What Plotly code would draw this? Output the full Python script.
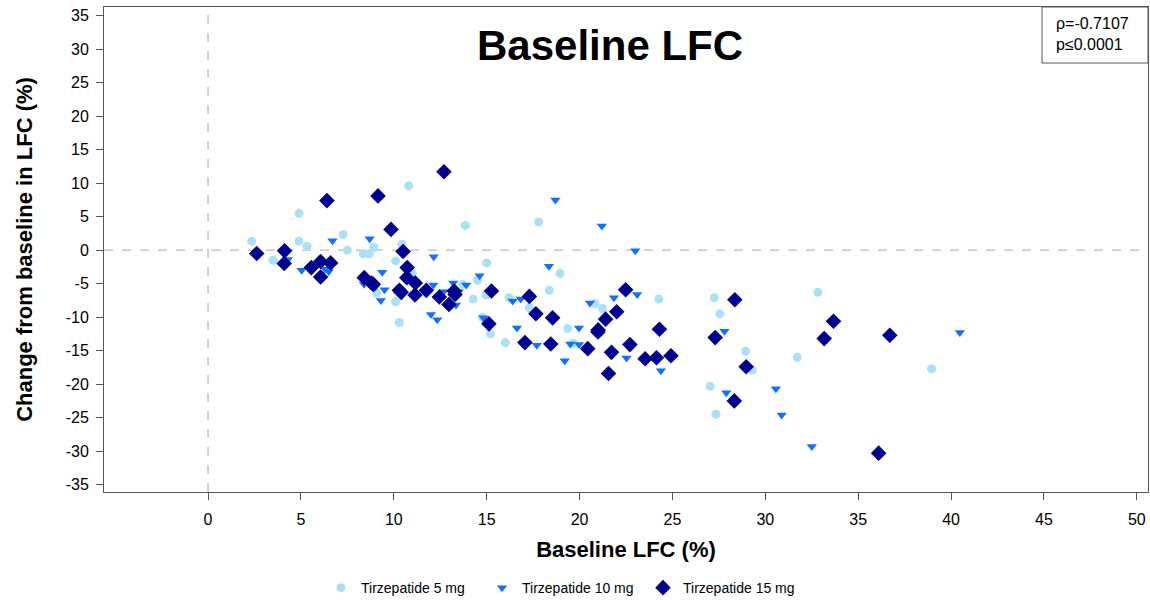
import plotly.graph_objects as go

# Tirzepatide 5 mg
x5 = [2.35, 3.5, 4.9, 4.9, 5.33, 7.27, 7.5, 8.36, 8.68, 8.93, 9.07, 10.1, 10.44, 10.8, 10.1, 10.3, 11.0,
      13.85, 13.7, 14.28, 14.5, 15.0, 14.96, 14.76, 15.2, 16.0, 16.2, 17.3, 17.8, 18.37, 18.95, 19.36, 19.66,
      20.83, 21.23, 24.27, 27.25, 27.55, 28.94, 29.3, 31.72, 32.83, 27.03, 27.34, 38.95]
y5 = [1.35, -1.5, 5.5, 1.35, 0.6, 2.35, 0.0, -0.55, -0.55, 0.4, -6.4, -1.6, 0.9, 9.6, -7.7, -10.8, -3.4,
      3.7, -5.1, -7.3, -4.5, -1.9, -6.7, -10.0, -12.5, -13.8, -7.1, -8.6, 4.2, -6.0, -3.5, -11.7, -13.9,
      -8.0, -8.7, -7.3, -7.1, -9.5, -15.1, -17.9, -16.0, -6.3, -20.3, -24.5, -17.7]

# Tirzepatide 10 mg
x10 = [4.3, 5.04, 6.3, 6.5, 6.7, 8.4, 8.7, 9.0, 9.38, 9.5, 9.3, 10.43, 12.15, 12.13, 12.67, 12.0, 12.34,
       13.2, 13.35, 13.5, 13.9, 14.62, 14.82, 16.4, 16.63, 16.83, 17.7, 18.35, 18.7, 19.2, 19.5, 19.97, 19.97,
       20.56, 21.2, 21.85, 22.53, 23.0, 23.1, 24.38, 27.8, 27.9, 30.57, 30.88, 32.5, 40.47]
y10 = [-1.4, -3.0, -2.8, -3.2, 1.4, -5.1, 1.7, -5.5, -3.3, -5.9, -7.5, -6.8, -1.0, -5.2, -6.2, -9.6, -10.4,
       -4.9, -8.2, -6.2, -5.2, -3.8, -10.1, -7.6, -11.6, -7.3, -14.2, -2.4, 7.5, -16.5, -14.0, -14.1, -11.6,
       -7.9, 3.6, -7.1, -16.1, -0.1, -6.6, -18.0, -12.1, -21.3, -20.7, -24.6, -29.3, -12.3]

# Tirzepatide 15 mg
x15 = [2.62, 4.12, 4.1, 5.56, 6.06, 6.06, 6.6, 6.4, 8.41, 8.8, 8.9, 9.15, 9.85, 10.3, 10.4, 10.5, 10.72,
       10.7, 11.16, 11.14, 11.75, 12.45, 12.7, 12.97, 13.25, 13.3, 15.12, 15.26, 17.06, 17.3, 17.65, 18.45,
       18.55, 20.44, 20.99, 21.0, 21.4, 21.56, 21.72, 22.0, 22.48, 22.71, 23.53, 24.14, 24.3, 24.92, 27.3,
       28.36, 28.33, 28.97, 33.17, 33.67, 36.1, 36.7]
y15 = [-0.5, -0.1, -2.0, -2.6, -4.0, -1.7, -1.9, 7.4, -4.1, -4.9, -5.1, 8.1, 3.1, -6.0, -6.3, -0.2, -2.6,
       -4.1, -4.9, -6.7, -6.0, -7.0, 11.7, -8.1, -6.1, -6.6, -11.0, -6.1, -13.8, -6.9, -9.5, -14.0,
       -10.1, -14.7, -12.2, -11.9, -10.3, -18.4, -15.25, -9.2, -5.9, -14.1, -16.2, -16.05, -11.8, -15.75, -13.05,
       -7.4, -22.5, -17.4, -13.2, -10.6, -30.3, -12.7]

x_ticks = [0, 5, 10, 15, 20, 25, 30, 35, 40, 45, 50]
y_ticks = [-35, -30, -25, -20, -15, -10, -5, 0, 5, 10, 15, 20, 25, 30, 35]

FONT = "Liberation Sans, Arial, sans-serif"
AX = "#555555"

fig = go.Figure()
fig.add_trace(go.Scatter(x=x5, y=y5, mode="markers", name="Tirzepatide 5 mg",
                         marker=dict(symbol="circle", size=9, color="#ADDFF8")))
fig.add_trace(go.Scatter(x=x10, y=y10, mode="markers", name="Tirzepatide 10 mg",
                         marker=dict(symbol="triangle-down", size=9, color="#1270FF")))
fig.add_trace(go.Scatter(x=x15, y=y15, mode="markers", name="Tirzepatide 15 mg",
                         marker=dict(symbol="diamond", size=12, color="#00008F")))

fig.add_hline(y=0, line=dict(color="#BBBBBB", width=1.3, dash="dash"), layer="below")
fig.add_vline(x=0, line=dict(color="#BBBBBB", width=1.3, dash="dash"), layer="below")

fig.add_annotation(text="<b>Baseline LFC</b>", xref="paper", yref="paper", x=0.4847, y=0.9216,
                   xanchor="center", yanchor="middle", showarrow=False,
                   font=dict(family=FONT, size=42, color="black"))
fig.add_annotation(text="ρ=-0.7107<br>p≤0.0001", xref="paper", yref="paper",
                   x=(1054 - 104) / 1044, y=(492 - 13) / 485, xanchor="left", yanchor="top",
                   align="left", showarrow=False, font=dict(family=FONT, size=16, color="black"))
fig.add_shape(type="rect", xref="paper", yref="paper", x0=(1042 - 104) / 1044, x1=1,
              y0=(492 - 63) / 485, y1=1, line=dict(color=AX, width=1))

axis_common = dict(showgrid=False, zeroline=False, showline=True, linecolor=AX, linewidth=1,
                   mirror=True, ticks="outside", ticklen=7, tickcolor=AX, automargin=False,
                   tickfont=dict(family=FONT, size=16, color="black"))

fig.update_xaxes(range=[-5.6, 50.6], tickvals=x_ticks, ticktext=[str(v) for v in x_ticks],
                 ticklabelstandoff=6,
                 title=dict(text="<b>Baseline LFC (%)</b>", font=dict(family=FONT, size=22, color="black"),
                            standoff=14), **axis_common)
fig.update_yaxes(range=[-36.1, 36.3], tickvals=y_ticks, ticktext=[str(v) for v in y_ticks],
                 ticklabelstandoff=4,
                 title=dict(text="<b>Change from baseline in LFC (%)</b>",
                            font=dict(family=FONT, size=22, color="black"), standoff=26), **axis_common)

fig.update_layout(
    width=1150, height=600, margin=dict(l=104, r=2, t=7, b=108, autoexpand=False),
    plot_bgcolor="white", paper_bgcolor="white",
    font=dict(family=FONT, color="black"),
    legend=dict(orientation="h", x=(321 - 104) / 1044, y=-0.198, xanchor="left", yanchor="middle",
                font=dict(family=FONT, size=14, color="black"), itemwidth=30,
                entrywidth=116, entrywidthmode="pixels", tracegroupgap=0),
    showlegend=True,
)

fig.write_html("out.html", config={"displayModeBar": False},
               post_script="document.body.style.margin='0';document.body.style.overflow='hidden';")
